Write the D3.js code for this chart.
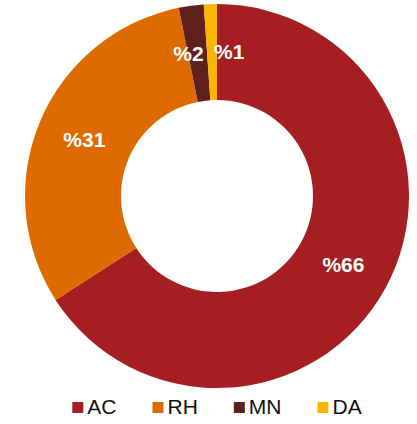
<!DOCTYPE html>
<meta charset="utf-8">
<style>
body { margin: 0; background: #fff; }
.label { fill: #fff; font: bold 21px "Liberation Sans", Arial, sans-serif; }
.legend text { font: 21px "Liberation Sans", Arial, sans-serif; fill: #111; }
</style>
<body>
<script src="https://cdnjs.cloudflare.com/ajax/libs/d3/7.8.5/d3.min.js"></script>
<script>
// data
var categories = ["AC", "RH", "MN", "DA"];
var values = [65.9, 30.9, 2.1, 1.1];
var labels = ["%66", "%31", "%2", "%1"];
var colors = ["#a51f22", "#dd6b00", "#5f1f1d", "#fbb400"];

var width = 417, height = 424;
var cx = 217, cy = 196, outer = 192, inner = 96;

var svg = d3.select("body").append("svg")
    .attr("width", width)
    .attr("height", height);

var data = categories.map(function(c, i) {
  return {name: c, value: values[i], label: labels[i], color: colors[i]};
});

var pie = d3.pie().sort(null).value(function(d) { return d.value; });
var arc = d3.arc().innerRadius(inner).outerRadius(outer);

var g = svg.append("g")
    .attr("transform", "translate(" + cx + "," + cy + ")");

var arcs = pie(data);

g.selectAll("path")
    .data(arcs)
  .enter().append("path")
    .attr("d", arc)
    .attr("fill", function(d) { return d.data.color; });

// labels at slice centroids; the two thin slices get nudged apart
g.selectAll(".label")
    .data(arcs)
  .enter().append("text")
    .attr("class", "label")
    .attr("transform", function(d) { return "translate(" + arc.centroid(d) + ")"; })
    .attr("dy", "0.35em")
    .attr("dx", function(d, i) {
      if (d.data.value < 5) return i == 2 ? 6 : 2;
      return 0;
    })
    .attr("text-anchor", function(d, i) {
      if (d.data.value < 5) return i == 2 ? "end" : "start";
      return "middle";
    })
    .text(function(d) { return d.data.label; });

// legend
var legend = svg.append("g").attr("class", "legend");
var items = legend.selectAll("g")
    .data(data)
  .enter().append("g");

items.append("rect")
    .attr("width", 11)
    .attr("height", 11)
    .attr("y", -12)
    .attr("fill", function(d) { return d.color; });

items.append("text")
    .attr("x", 15)
    .attr("y", 0)
    .text(function(d) { return d.name; });

var x = 0;
items.each(function() {
  var w = this.getBBox().width;
  d3.select(this).attr("transform", "translate(" + x + ",0)");
  x += w + 36;
});
var total = x - 36;
legend.attr("transform", "translate(" + (cx - total / 2) + ",414)");
</script>
</body>
